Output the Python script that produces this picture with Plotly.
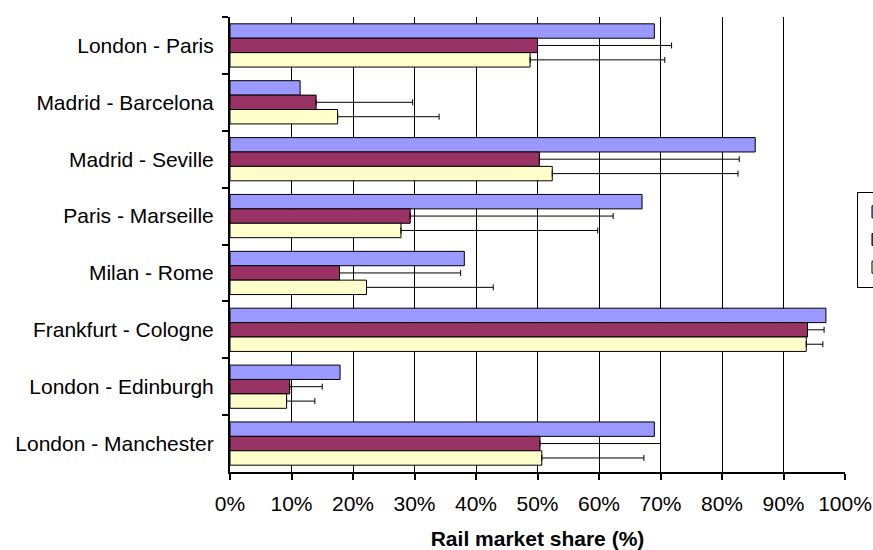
import plotly.graph_objects as go

routes = ["London - Paris", "Madrid - Barcelona", "Madrid - Seville", "Paris - Marseille",
          "Milan - Rome", "Frankfurt - Cologne", "London - Edinburgh", "London - Manchester"]

actual_share = [69.0, 11.4, 85.4, 67.0, 38.1, 96.9, 17.9, 69.0]
model_a_share = [50.0, 14.0, 50.3, 29.3, 17.8, 93.9, 9.7, 50.4]
model_a_err = [21.8, 15.7, 32.5, 33.0, 19.7, 2.7, 5.3, 19.6]
model_b_share = [48.8, 17.5, 52.4, 27.8, 22.2, 93.7, 9.2, 50.7]
model_b_err = [21.9, 16.5, 30.2, 32.0, 20.6, 2.7, 4.6, 16.6]

series_names = ["Actual", "Model A", "Model B"]
colors = ["#9999FF", "#993366", "#FFFFCC"]

FONT = "Liberation Sans, Arial, sans-serif"
FS = 21

fig = go.Figure()
fig.add_trace(go.Bar(y=routes, x=actual_share, orientation="h", name=series_names[0],
                     marker=dict(color=colors[0], line=dict(color="black", width=1))))
fig.add_trace(go.Bar(y=routes, x=model_a_share, orientation="h", name=series_names[1],
                     marker=dict(color=colors[1], line=dict(color="black", width=1)),
                     error_x=dict(type="data", array=model_a_err, arrayminus=[0]*len(routes),
                                  symmetric=False, color="black", thickness=1, width=3)))
fig.add_trace(go.Bar(y=routes, x=model_b_share, orientation="h", name=series_names[2],
                     marker=dict(color=colors[2], line=dict(color="black", width=1)),
                     error_x=dict(type="data", array=model_b_err, arrayminus=[0]*len(routes),
                                  symmetric=False, color="black", thickness=1, width=3)))

fig.update_layout(
    width=873, height=550,
    margin=dict(l=230, r=28, t=17, b=78, autoexpand=False),
    paper_bgcolor="white", plot_bgcolor="white",
    barmode="group", bargap=0.24, bargroupgap=0,
    font=dict(family=FONT, size=FS, color="black"),
    showlegend=True,
    legend=dict(x=1.0195, xanchor="left", y=0.51, yanchor="middle",
                bordercolor="black", borderwidth=1, bgcolor="white",
                font=dict(size=19), itemwidth=30, traceorder="normal"),
    xaxis=dict(range=[0, 100], dtick=10, ticksuffix="%",
               showgrid=True, gridcolor="black", gridwidth=1,
               zeroline=False, showline=True, linecolor="black", linewidth=2,
               ticks="outside", ticklen=6, tickcolor="black", tickwidth=1.5,
               ticklabelstandoff=6, automargin=False,
               title=dict(text="<b>Rail market share (%)</b>", font=dict(size=FS), standoff=18),
               tickfont=dict(size=FS)),
    yaxis=dict(autorange="reversed", showline=True, linecolor="black", linewidth=2,
               ticks="outside", ticklen=6, tickcolor="black", tickwidth=1.5,
               tickson="boundaries", showgrid=False, ticklabelstandoff=10, automargin=False,
               tickfont=dict(size=FS)),
)

fig.write_html("out.html", config={"displayModeBar": False},
               post_script="document.body.style.margin='0';document.body.style.overflow='hidden';")
